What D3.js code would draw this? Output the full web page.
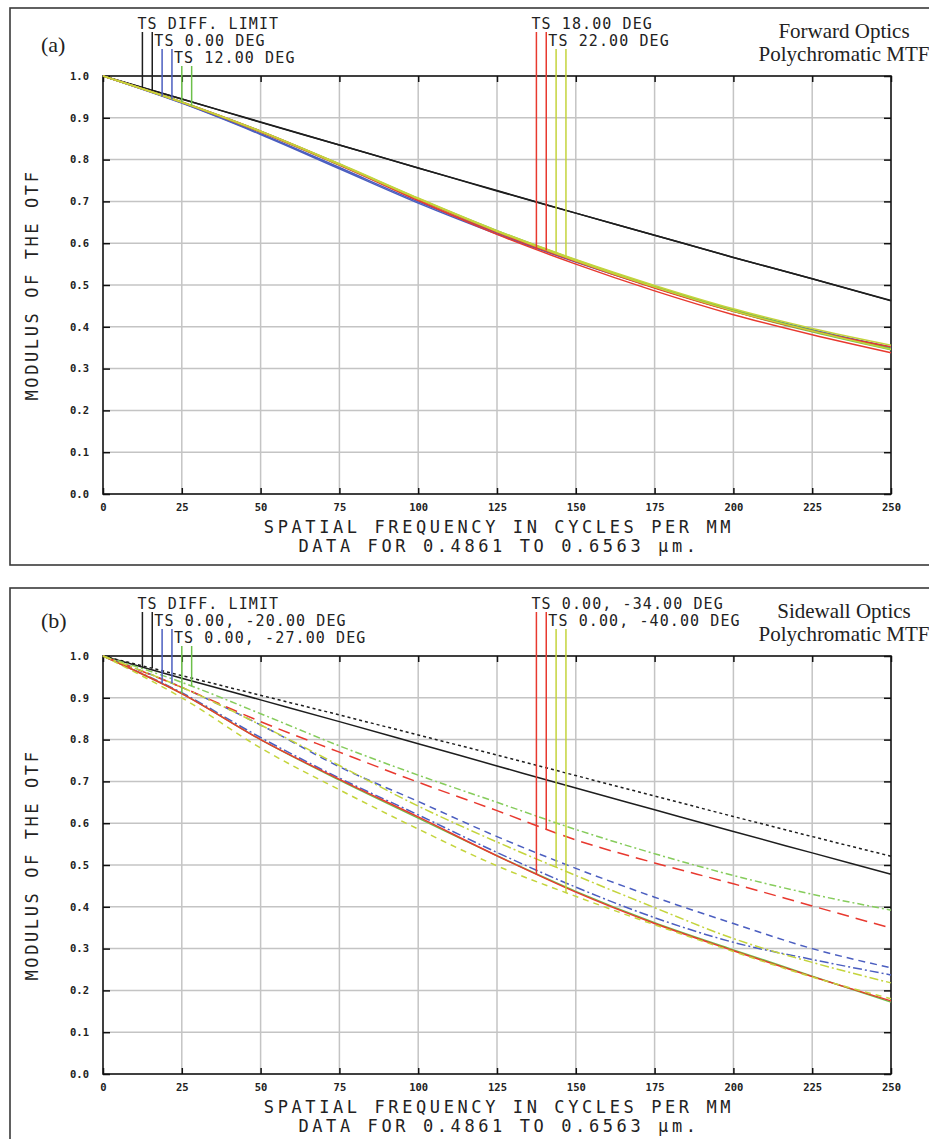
<!DOCTYPE html>
<html>
<head>
<meta charset="utf-8">
<script src="https://cdn.jsdelivr.net/npm/d3@7"></script>
<style>
  body { margin: 0; background: #fff; }
  .mono { font-family: "DejaVu Sans Mono", monospace; fill: #222; }
  .serif { font-family: "Liberation Serif", "Times New Roman", serif; fill: #222; }
</style>
</head>
<body>
<svg id="chart" width="929" height="1139"></svg>
<script>
// spatial frequency samples (cycles/mm)
var freq = [0, 25, 50, 75, 100, 125, 150, 175, 200, 225, 250];
var yTickVals = [0, 0.1, 0.2, 0.3, 0.4, 0.5, 0.6, 0.7, 0.8, 0.9, 1.0];

// (a) forward optics, tangential / sagittal
var fwdDiffT = [1.000, 0.945, 0.889, 0.835, 0.780, 0.725, 0.672, 0.619, 0.566, 0.515, 0.462];
var fwdDiffS = [1.000, 0.945, 0.890, 0.835, 0.780, 0.726, 0.672, 0.619, 0.566, 0.515, 0.463];
var fwd00T = [1.000, 0.935, 0.860, 0.778, 0.696, 0.622, 0.555, 0.494, 0.438, 0.392, 0.352];
var fwd00S = [1.000, 0.936, 0.862, 0.781, 0.699, 0.625, 0.557, 0.496, 0.440, 0.393, 0.350];
var fwd12T = [1.000, 0.937, 0.866, 0.787, 0.705, 0.628, 0.558, 0.494, 0.437, 0.388, 0.345];
var fwd12S = [1.000, 0.938, 0.868, 0.789, 0.707, 0.630, 0.560, 0.497, 0.440, 0.391, 0.348];
var fwd18T = [1.000, 0.937, 0.866, 0.787, 0.702, 0.621, 0.550, 0.486, 0.429, 0.381, 0.338];
var fwd18S = [1.000, 0.938, 0.868, 0.789, 0.705, 0.626, 0.556, 0.493, 0.437, 0.390, 0.352];
var fwd22T = [1.000, 0.938, 0.868, 0.790, 0.708, 0.630, 0.561, 0.499, 0.443, 0.396, 0.356];
var fwd22S = [1.000, 0.937, 0.867, 0.788, 0.706, 0.628, 0.558, 0.495, 0.438, 0.390, 0.346];

// (b) sidewall optics
var swDiffT = [1.000, 0.947, 0.895, 0.843, 0.790, 0.737, 0.684, 0.632, 0.580, 0.529, 0.478];
var swDiffS = [1.000, 0.953, 0.906, 0.859, 0.811, 0.763, 0.714, 0.665, 0.616, 0.568, 0.521];
var sw20T = [1.000, 0.912, 0.805, 0.708, 0.620, 0.530, 0.447, 0.374, 0.315, 0.274, 0.237];
var sw20S = [1.000, 0.925, 0.835, 0.735, 0.652, 0.568, 0.492, 0.423, 0.360, 0.300, 0.254];
var sw27T = [1.000, 0.910, 0.800, 0.703, 0.612, 0.522, 0.437, 0.362, 0.297, 0.234, 0.172];
var sw27S = [1.000, 0.937, 0.862, 0.785, 0.715, 0.650, 0.585, 0.527, 0.475, 0.430, 0.392];
var sw34T = [1.000, 0.910, 0.800, 0.705, 0.615, 0.522, 0.435, 0.360, 0.295, 0.233, 0.175];
var sw34S = [1.000, 0.925, 0.843, 0.770, 0.698, 0.630, 0.560, 0.505, 0.455, 0.402, 0.349];
var sw40T = [1.000, 0.925, 0.835, 0.738, 0.641, 0.555, 0.475, 0.398, 0.324, 0.267, 0.218];
var sw40S = [1.000, 0.900, 0.780, 0.680, 0.586, 0.498, 0.425, 0.357, 0.293, 0.232, 0.180];

var legendA = ["TS DIFF. LIMIT", "TS 0.00 DEG", "TS 12.00 DEG", "TS 18.00 DEG", "TS 22.00 DEG"];
var legendB = ["TS DIFF. LIMIT", "TS 0.00, -20.00 DEG", "TS 0.00, -27.00 DEG", "TS 0.00, -34.00 DEG", "TS 0.00, -40.00 DEG"];
// frequencies where the legend marker lines drop onto the T and S curves
var markerFreqs = [[12.5, 15.625], [18.75, 21.875], [25, 28.125], [137.5, 140.625], [143.75, 146.875]];

var colBlack = "#1e1e1e", colBlue = "#4b5ec0", colGreen = "#6cbf4a", colLight = "#86cc5c",
    colRed = "#e8392f", colYg = "#c4d43c";

var panelA = {
  top: 0, tag: "(a)", tagDy: 0, title: ["Forward Optics", "Polychromatic MTF"], legend: legendA,
  fields: [
    {color: colBlack, T: fwdDiffT, S: fwdDiffS},
    {color: colBlue, T: fwd00T, S: fwd00S},
    {color: colGreen, T: fwd12T, S: fwd12S},
    {color: colRed, T: fwd18T, S: fwd18S},
    {color: colYg, T: fwd22T, S: fwd22S}
  ]
};
var panelB = {
  top: 580, tag: "(b)", tagDy: -4, title: ["Sidewall Optics", "Polychromatic MTF"], legend: legendB,
  fields: [
    {color: colBlack, T: swDiffT, S: swDiffS, dashS: "3,3"},
    {color: colBlue, T: sw20T, S: sw20S, dashT: "9,3,2,3", dashS: "7,5"},
    {color: colGreen, colorS: colLight, T: sw27T, S: sw27S, dashS: "7,3,2,3"},
    {color: colRed, T: sw34T, S: sw34S, dashS: "12,7"},
    {color: colYg, T: sw40T, S: sw40S, dashT: "9,3,2,3", dashS: "6,5"}
  ]
};

var svg = d3.select("#chart");

var drawPanel = function(p) {
  var g = svg.append("g").attr("transform", "translate(0," + p.top + ")");

  // outer box
  g.append("rect").attr("x", 10).attr("y", 8).attr("width", 940).attr("height", 557)
    .attr("fill", "none").attr("stroke", "#3a3a3a").attr("stroke-width", 1.6);

  var x = d3.scaleLinear().domain([0, 250]).range([103, 891]);
  var y = d3.scaleLinear().domain([0, 1]).range([494, 76]);

  // grid
  g.append("g").selectAll("line").data(d3.range(25, 250, 25)).join("line")
    .attr("x1", function(d){ return x(d); }).attr("x2", function(d){ return x(d); })
    .attr("y1", y(0)).attr("y2", y(1))
    .attr("stroke", "#c4c4c4").attr("stroke-width", 1.5);
  g.append("g").selectAll("line").data(yTickVals.slice(1, 10)).join("line")
    .attr("y1", function(d){ return y(d); }).attr("y2", function(d){ return y(d); })
    .attr("x1", x(0)).attr("x2", x(250))
    .attr("stroke", "#c4c4c4").attr("stroke-width", 1.5);

  // axes with inward ticks
  var xTicks = d3.range(0, 251, 25);
  var left = g.append("g").attr("transform", "translate(" + x(0) + ",0)")
    .call(d3.axisLeft(y).tickValues(yTickVals).tickSize(-7).tickPadding(14).tickFormat(d3.format(".1f")));
  var bottom = g.append("g").attr("transform", "translate(0," + y(0) + ")")
    .call(d3.axisBottom(x).tickValues(xTicks).tickSize(-6).tickPadding(10).tickFormat(d3.format("d")));
  var topAx = g.append("g").attr("transform", "translate(0," + y(1) + ")")
    .call(d3.axisTop(x).tickValues(xTicks).tickSize(-6).tickFormat(""));
  var rightAx = g.append("g").attr("transform", "translate(" + x(250) + ",0)")
    .call(d3.axisRight(y).tickValues(yTickVals).tickSize(-7).tickFormat(""));
  [left, bottom, topAx, rightAx].forEach(function(a){
    a.select(".domain").remove();
    a.selectAll(".tick line").attr("stroke", "#111").attr("stroke-width", 1.5);
    a.selectAll("text").attr("class", "mono").style("font-size", "10.5px").style("font-weight", "bold")
      .attr("fill", "#222");
  });

  // frame
  g.append("rect").attr("x", x(0)).attr("y", y(1)).attr("width", x(250) - x(0)).attr("height", y(0) - y(1))
    .attr("fill", "none").attr("stroke", "#111").attr("stroke-width", 1.6);

  // curves
  var line = d3.line()
    .x(function(d, i){ return x(freq[i]); })
    .y(function(d){ return y(d); })
    .curve(d3.curveMonotoneX);
  var curves = g.append("g").attr("fill", "none").attr("stroke-width", 1.5);
  p.fields.forEach(function(f){
    curves.append("path").attr("d", line(f.S))
      .attr("stroke", f.colorS || f.color).attr("stroke-dasharray", f.dashS || null);
    curves.append("path").attr("d", line(f.T))
      .attr("stroke", f.color).attr("stroke-dasharray", f.dashT || null);
  });

  // legend labels and marker lines
  p.legend.forEach(function(txt, i){
    var f = p.fields[i];
    var row = i < 3 ? i : i - 3;
    var base = 29 + 17 * row;
    var tx;
    if (i === 0 || i === 3) tx = x(markerFreqs[i][0]) - 5;
    else tx = x(markerFreqs[i - 1][1]) + 2;
    g.append("text").attr("class", "mono").attr("x", tx).attr("y", base)
      .style("font-size", "15px").style("letter-spacing", "1.1px").text(txt);
    [f.T, f.S].forEach(function(s, k){
      var fq = markerFreqs[i][k];
      var v = d3.scaleLinear().domain(freq).range(s)(fq);
      g.append("line").attr("x1", x(fq)).attr("x2", x(fq))
        .attr("y1", base + 3).attr("y2", y(v))
        .attr("stroke", f.color).attr("stroke-width", 1.5);
    });
  });

  // axis titles
  g.append("text").attr("class", "mono").attr("text-anchor", "middle")
    .attr("transform", "translate(38," + ((y(0) + y(1)) / 2) + ") rotate(-90)")
    .style("font-size", "17px").style("letter-spacing", "2.6px")
    .text("MODULUS OF THE OTF");
  g.append("text").attr("class", "mono").attr("text-anchor", "middle")
    .attr("x", (x(0) + x(250)) / 2 + 2).attr("y", 533)
    .style("font-size", "17px").style("letter-spacing", "3.6px")
    .text("SPATIAL FREQUENCY IN CYCLES PER MM");
  g.append("text").attr("class", "mono").attr("text-anchor", "middle")
    .attr("x", (x(0) + x(250)) / 2 + 2).attr("y", 552)
    .style("font-size", "17px").style("letter-spacing", "3.6px")
    .text("DATA FOR 0.4861 TO 0.6563 \u03bcm.");

  // panel tag and title
  g.append("text").attr("class", "serif").attr("x", 41).attr("y", 52 + p.tagDy)
    .style("font-size", "22px").text(p.tag);
  g.append("text").attr("class", "serif").attr("text-anchor", "middle")
    .attr("x", 844).attr("y", 38).style("font-size", "21px").text(p.title[0]);
  g.append("text").attr("class", "serif").attr("text-anchor", "middle")
    .attr("x", 844).attr("y", 61).style("font-size", "21px").text(p.title[1]);
};

drawPanel(panelA);
drawPanel(panelB);
</script>
</body>
</html>
